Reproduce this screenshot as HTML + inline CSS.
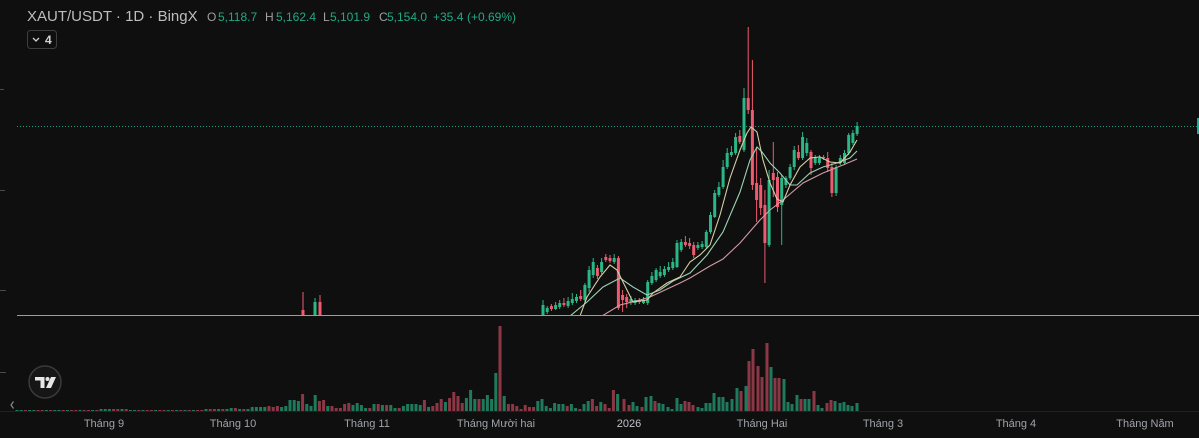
<!DOCTYPE html>
<html><head><meta charset="utf-8"><style>
html,body{margin:0;padding:0;background:#0f0f0f;width:1199px;height:438px;overflow:hidden}
svg{display:block}
text{font-family:"Liberation Sans","DejaVu Sans",sans-serif}
</style></head><body>
<svg width="1199" height="438" viewBox="0 0 1199 438" xmlns="http://www.w3.org/2000/svg">
<defs><clipPath id="pp"><rect x="0" y="0" width="1199" height="315"/></clipPath></defs>
<rect width="1199" height="438" fill="#0f0f0f"/>
<g stroke="#4a4a4a" stroke-width="1"><line x1="0" y1="89.5" x2="4" y2="89.5"/><line x1="0" y1="190.5" x2="5" y2="190.5"/><line x1="0" y1="290.5" x2="6" y2="290.5"/><line x1="0" y1="372.5" x2="6" y2="372.5"/></g>
<line x1="17" y1="126.5" x2="1199" y2="126.5" stroke="#1f9c80" stroke-width="1" stroke-dasharray="1 2"/>
<rect x="1197" y="118" width="2" height="16" fill="#22ab94"/>
<g clip-path="url(#pp)">
<path stroke="#2bb686" stroke-width="1" fill="none" d="M543 300V316M547.2 306V314M555.6 302V310M559.7 300V309M568.1 297V308M572.3 293V305M576.5 294V303M584.9 283V302M589.1 266V292M593.2 258V278M601.6 258V274M614.2 254V264M630.9 296V305M635.1 298V305M643.5 297V304M647.7 280V305M651.9 272V285M656.1 268V282M660.2 266V278M664.4 266V277M668.6 262V272M672.8 258V270M677 240V268M681.2 239V252M697.9 242V250M702.1 241V249M706.3 230V249M710.5 212V234M714.7 190V218M718.9 182V197M723.1 160V189M727.2 148V169M731.4 146V157M735.6 133V155M744 88V152M769.1 170V247M781.7 175V245M785.9 176V188M790.1 164V180M794.2 146V170M802.6 132V160M806.8 138V156M815.2 155V165M819.4 155V165M823.6 155V160M836.1 165V196M840.3 155V165M844.5 150V165M848.7 133V155M852.9 130V145M857.1 122V136M315 298V320"/>
<path stroke="#ec5b6f" stroke-width="1" fill="none" d="M551.4 304V311M563.9 298V307M580.7 290V301M597.4 265V279M605.8 254V262M610 255V263M618.4 256V310M622.6 290V312M626.7 294V308M639.3 298V304M685.4 236V247M689.6 238V249M693.7 242V258M739.8 130V144M748.2 27V114M752.4 60V190M756.6 147V222M760.7 178V215M764.9 190V283M773.3 142V197M777.5 172V212M798.4 145V160M811 150V175M827.7 152V172M831.9 163V197M303 292V320M320 295V320"/>
<path fill="#2bb686" d="M541.5 305h3v10h-3zM545.7 308h3v4h-3zM554.1 305h3v4h-3zM558.2 303h3v4h-3zM566.6 301h3v5h-3zM570.8 299h3v4h-3zM575 297h3v4h-3zM583.4 285h3v15h-3zM587.6 270h3v18h-3zM591.7 262h3v13h-3zM600.1 262h3v10h-3zM612.7 258h3v4h-3zM629.4 299h3v3h-3zM633.6 300h3v3h-3zM642 300h3v3h-3zM646.2 282h3v21h-3zM650.4 276h3v7h-3zM654.6 270h3v10h-3zM658.7 272h3v4h-3zM662.9 269h3v6h-3zM667.1 267h3v3h-3zM671.3 262h3v6h-3zM675.5 243h3v24h-3zM679.7 242h3v8h-3zM696.4 245h3v3h-3zM700.6 244h3v3h-3zM704.8 232h3v15h-3zM709 215h3v17h-3zM713.2 193h3v24h-3zM717.4 187h3v8h-3zM721.6 167h3v20h-3zM725.7 153h3v14h-3zM729.9 152h3v3h-3zM734.1 137h3v16h-3zM742.5 98h3v52h-3zM767.6 180h3v65h-3zM780.2 178h3v27h-3zM784.4 178h3v7h-3zM788.6 167h3v11h-3zM792.7 150h3v17h-3zM801.1 137h3v21h-3zM805.3 143h3v10h-3zM813.7 158h3v5h-3zM817.9 158h3v5h-3zM822.1 157h3v1h-3zM834.6 167h3v26h-3zM838.8 158h3v5h-3zM843 153h3v10h-3zM847.2 135h3v18h-3zM851.4 133h3v10h-3zM855.6 126h3v8h-3zM313.5 302h3v18h-3z"/>
<path fill="#ec5b6f" d="M549.9 306h3v3h-3zM562.4 303h3v2h-3zM579.2 296h3v3h-3zM595.9 268h3v8h-3zM604.3 257h3v3h-3zM608.5 258h3v3h-3zM616.9 258h3v50h-3zM621.1 295h3v5h-3zM625.2 297h3v5h-3zM637.8 300h3v2h-3zM683.9 242h3v3h-3zM688.1 243h3v3h-3zM692.2 245h3v10h-3zM738.3 136h3v6h-3zM746.7 98h3v12h-3zM750.9 110h3v75h-3zM755.1 183h3v17h-3zM759.2 185h3v23h-3zM763.4 205h3v38h-3zM771.8 173h3v7h-3zM776 177h3v30h-3zM796.9 152h3v6h-3zM809.5 152h3v16h-3zM826.2 158h3v10h-3zM830.4 167h3v26h-3zM301.5 310h3v10h-3zM318.5 302h3v18h-3z"/>
<polyline fill="none" stroke="#d29aa3" stroke-width="1.1" points="602,316 620,305 640,300 650,297 665,290 680,283 690,278 710,266 723,259 740,243 753,228 760,220 770,210 783,200 803,183 823,173 843,165 857,159"/>
<polyline fill="none" stroke="#9ad3b3" stroke-width="1.1" points="570,316 587,302 603,287 620,278 633,287 647,295 660,290 673,281 690,273 707,255 723,232 740,192 750,160 757,147 762,152 770,163 780,173 790,185 797,185 810,173 823,167 837,163 850,158 857,151"/>
<polyline fill="none" stroke="#d6cfa2" stroke-width="1.1" points="580,316 587,297 600,277 610,265 617,270 627,290 633,302 647,300 653,293 667,283 680,277 690,262 700,255 710,245 720,215 730,178 740,150 747,133 751,127 757,132 763,160 770,183 777,199 783,202 790,185 800,167 810,158 820,157 830,162 840,163 850,152 857,140"/>
</g>
<line x1="17" y1="315.5" x2="1199" y2="315.5" stroke="#9c9c9c" stroke-width="1"/>
<line x1="0" y1="411.5" x2="1199" y2="411.5" stroke="#202020" stroke-width="1"/>
<path fill="#1f7a5c" d="M15.5 411v-1h3v1zM19.7 411v-1h3v1zM28.1 411v-1h3v1zM32.3 411v-1h3v1zM44.9 411v-1h3v1zM53.3 411v-1h3v1zM57.5 411v-1h3v1zM65.9 411v-1h3v1zM78.5 411v-1h3v1zM91.1 411v-1h3v1zM99.5 411v-2h3v2zM103.7 411v-2h3v2zM107.9 411v-2h3v2zM120.5 411v-2h3v2zM128.9 411v-1h3v1zM133.1 411v-1h3v1zM141.5 411v-1h3v1zM154.1 411v-1h3v1zM166.7 411v-1h3v1zM175.1 411v-1h3v1zM183.5 411v-1h3v1zM191.9 411v-1h3v1zM204.5 411v-2h3v2zM217.1 411v-2h3v2zM225.5 411v-2h3v2zM229.7 411v-3h3v3zM238.1 411v-2h3v2zM246.5 411v-2h3v2zM250.7 411v-4h3v4zM254.9 411v-4h3v4zM259.1 411v-4h3v4zM263.3 411v-4h3v4zM280.1 411v-4h3v4zM284.3 411v-5h3v5zM288.5 411v-11h3v11zM292.7 411v-11h3v11zM296.9 411v-10h3v10zM305.3 411v-7h3v7zM309.5 411v-5h3v5zM313.7 411v-16h3v16zM326.3 411v-5h3v5zM351.5 411v-6h3v6zM355.7 411v-8h3v8zM359.9 411v-6h3v6zM364.1 411v-3h3v3zM372.5 411v-7h3v7zM380.9 411v-6h3v6zM389.3 411v-6h3v6zM393.5 411v-3h3v3zM401.9 411v-5h3v5zM406.1 411v-7h3v7zM410.3 411v-7h3v7zM414.5 411v-7h3v7zM418.7 411v-6h3v6zM427.1 411v-4h3v4zM443.9 411v-9h3v9zM464.9 411v-13h3v13zM469.1 411v-21h3v21zM473.3 411v-12h3v12zM481.7 411v-12h3v12zM485.9 411v-16h3v16zM490.1 411v-12h3v12zM494.3 411v-38h3v38zM502.7 411v-15h3v15zM536.3 411v-10h3v10zM540.5 411v-12h3v12zM544.7 411v-5h3v5zM548.9 411v-3h3v3zM553.1 411v-8h3v8zM557.3 411v-7h3v7zM561.5 411v-7h3v7zM569.9 411v-7h3v7zM574.1 411v-3h3v3zM582.5 411v-7h3v7zM586.7 411v-10h3v10zM599.3 411v-9h3v9zM616.1 411v-17h3v17zM631.5 411v-9h3v9zM635.5 411v-5h3v5zM644.5 411v-14h3v14zM649.5 411v-15h3v15zM657.5 411v-8h3v8zM661.5 411v-7h3v7zM666.5 411v-4h3v4zM670.5 411v-2h3v2zM675.5 411v-13h3v13zM679.5 411v-7h3v7zM696.5 411v-4h3v4zM700.5 411v-3h3v3zM704.5 411v-8h3v8zM708.5 411v-8h3v8zM712.5 411v-18h3v18zM717.5 411v-14h3v14zM721.5 411v-14h3v14zM725.5 411v-9h3v9zM730.5 411v-12h3v12zM735.5 411v-23h3v23zM744.5 411v-25h3v25zM769.5 411v-44h3v44zM782.5 411v-32h3v32zM786.5 411v-9h3v9zM790.5 411v-7h3v7zM795.5 411v-16h3v16zM803.5 411v-12h3v12zM807.5 411v-12h3v12zM816.5 411v-6h3v6zM820.5 411v-3h3v3zM833.5 411v-10h3v10zM838.5 411v-8h3v8zM842.5 411v-9h3v9zM846.5 411v-6h3v6zM850.5 411v-5h3v5zM855.5 411v-8h3v8z"/>
<path fill="#8c3746" d="M23.9 411v-1h3v1zM36.5 411v-1h3v1zM40.7 411v-1h3v1zM49.1 411v-1h3v1zM61.7 411v-1h3v1zM70.1 411v-1h3v1zM74.3 411v-1h3v1zM82.7 411v-1h3v1zM86.9 411v-1h3v1zM95.3 411v-1h3v1zM112.1 411v-2h3v2zM116.3 411v-2h3v2zM124.7 411v-2h3v2zM137.3 411v-1h3v1zM145.7 411v-1h3v1zM149.9 411v-1h3v1zM158.3 411v-1h3v1zM162.5 411v-1h3v1zM170.9 411v-1h3v1zM179.3 411v-1h3v1zM187.7 411v-1h3v1zM196.1 411v-1h3v1zM200.3 411v-1h3v1zM208.7 411v-2h3v2zM212.9 411v-2h3v2zM221.3 411v-2h3v2zM233.9 411v-3h3v3zM242.3 411v-2h3v2zM267.5 411v-5h3v5zM271.7 411v-4h3v4zM275.9 411v-5h3v5zM301.1 411v-17h3v17zM317.9 411v-10h3v10zM322.1 411v-11h3v11zM330.5 411v-5h3v5zM334.7 411v-3h3v3zM338.9 411v-3h3v3zM343.1 411v-7h3v7zM347.3 411v-8h3v8zM368.3 411v-3h3v3zM376.7 411v-7h3v7zM385.1 411v-6h3v6zM397.7 411v-3h3v3zM422.9 411v-11h3v11zM431.3 411v-5h3v5zM435.5 411v-8h3v8zM439.7 411v-12h3v12zM448.1 411v-13h3v13zM452.3 411v-19h3v19zM456.5 411v-15h3v15zM460.7 411v-8h3v8zM477.5 411v-12h3v12zM498.5 411v-85h3v85zM506.9 411v-7h3v7zM511.1 411v-7h3v7zM515.3 411v-5h3v5zM519.5 411v-2h3v2zM523.7 411v-6h3v6zM527.9 411v-4h3v4zM532.1 411v-4h3v4zM565.7 411v-5h3v5zM578.3 411v-2h3v2zM590.9 411v-12h3v12zM595.1 411v-5h3v5zM603.5 411v-7h3v7zM607.7 411v-3h3v3zM611.9 411v-21h3v21zM622.5 411v-12h3v12zM627.5 411v-6h3v6zM640.5 411v-4h3v4zM653.5 411v-10h3v10zM683.5 411v-10h3v10zM687.5 411v-9h3v9zM691.5 411v-6h3v6zM739.5 411v-20h3v20zM747.5 411v-50h3v50zM751.5 411v-62h3v62zM756.5 411v-45h3v45zM760.5 411v-34h3v34zM765.5 411v-68h3v68zM773.5 411v-33h3v33zM777.5 411v-33h3v33zM799.5 411v-12h3v12zM812.5 411v-20h3v20zM825.5 411v-8h3v8zM829.5 411v-11h3v11z"/>
<circle cx="45" cy="382" r="16" fill="#161616" stroke="#3a3a3a" stroke-width="1.5"/>
<path fill="#e6e6e6" d="M35 377h9.5v11h-4v-7.5h-5.5z"/>
<circle cx="47.5" cy="379" r="2" fill="#e6e6e6"/>
<path fill="#e6e6e6" d="M51 377h5l-5 11h-5z"/>
<polyline points="13.5,401.5 11,405 13.5,408.5" fill="none" stroke="#8a8a8a" stroke-width="1.2"/>
<text x="27" y="21" font-size="15" fill="#bdbdbd">XAUT/USDT · 1D · BingX</text>
<g font-size="12">
<text x="207" y="21" fill="#a0a0a0">O</text><text x="218" y="21" fill="#23a884">5,118.7</text>
<text x="265" y="21" fill="#a0a0a0">H</text><text x="276" y="21" fill="#23a884">5,162.4</text>
<text x="323" y="21" fill="#a0a0a0">L</text><text x="330" y="21" fill="#23a884">5,101.9</text>
<text x="379" y="21" fill="#a0a0a0">C</text><text x="387" y="21" fill="#23a884">5,154.0</text>
<text x="433" y="21" fill="#23a884">+35.4</text><text x="467" y="21" fill="#23a884">(+0.69%)</text>
</g>
<rect x="27.5" y="30.5" width="29" height="18" rx="3" fill="none" stroke="#3e3e3e"/>
<polyline points="33,38 36,41 39,38" fill="none" stroke="#cfcfcf" stroke-width="1.3"/>
<text x="45" y="44" font-size="12" font-weight="bold" fill="#d6d6d6">4</text>
<g font-size="11" fill="#a0a3aa" text-anchor="middle">
<text x="104" y="427">Tháng 9</text>
<text x="233" y="427">Tháng 10</text>
<text x="367" y="427">Tháng 11</text>
<text x="496" y="427">Tháng Mười hai</text>
<text x="629" y="427" fill="#c0c2c8">2026</text>
<text x="762" y="427">Tháng Hai</text>
<text x="883" y="427">Tháng 3</text>
<text x="1016" y="427">Tháng 4</text>
<text x="1145" y="427">Tháng Năm</text>
</g>
</svg>
</body></html>
